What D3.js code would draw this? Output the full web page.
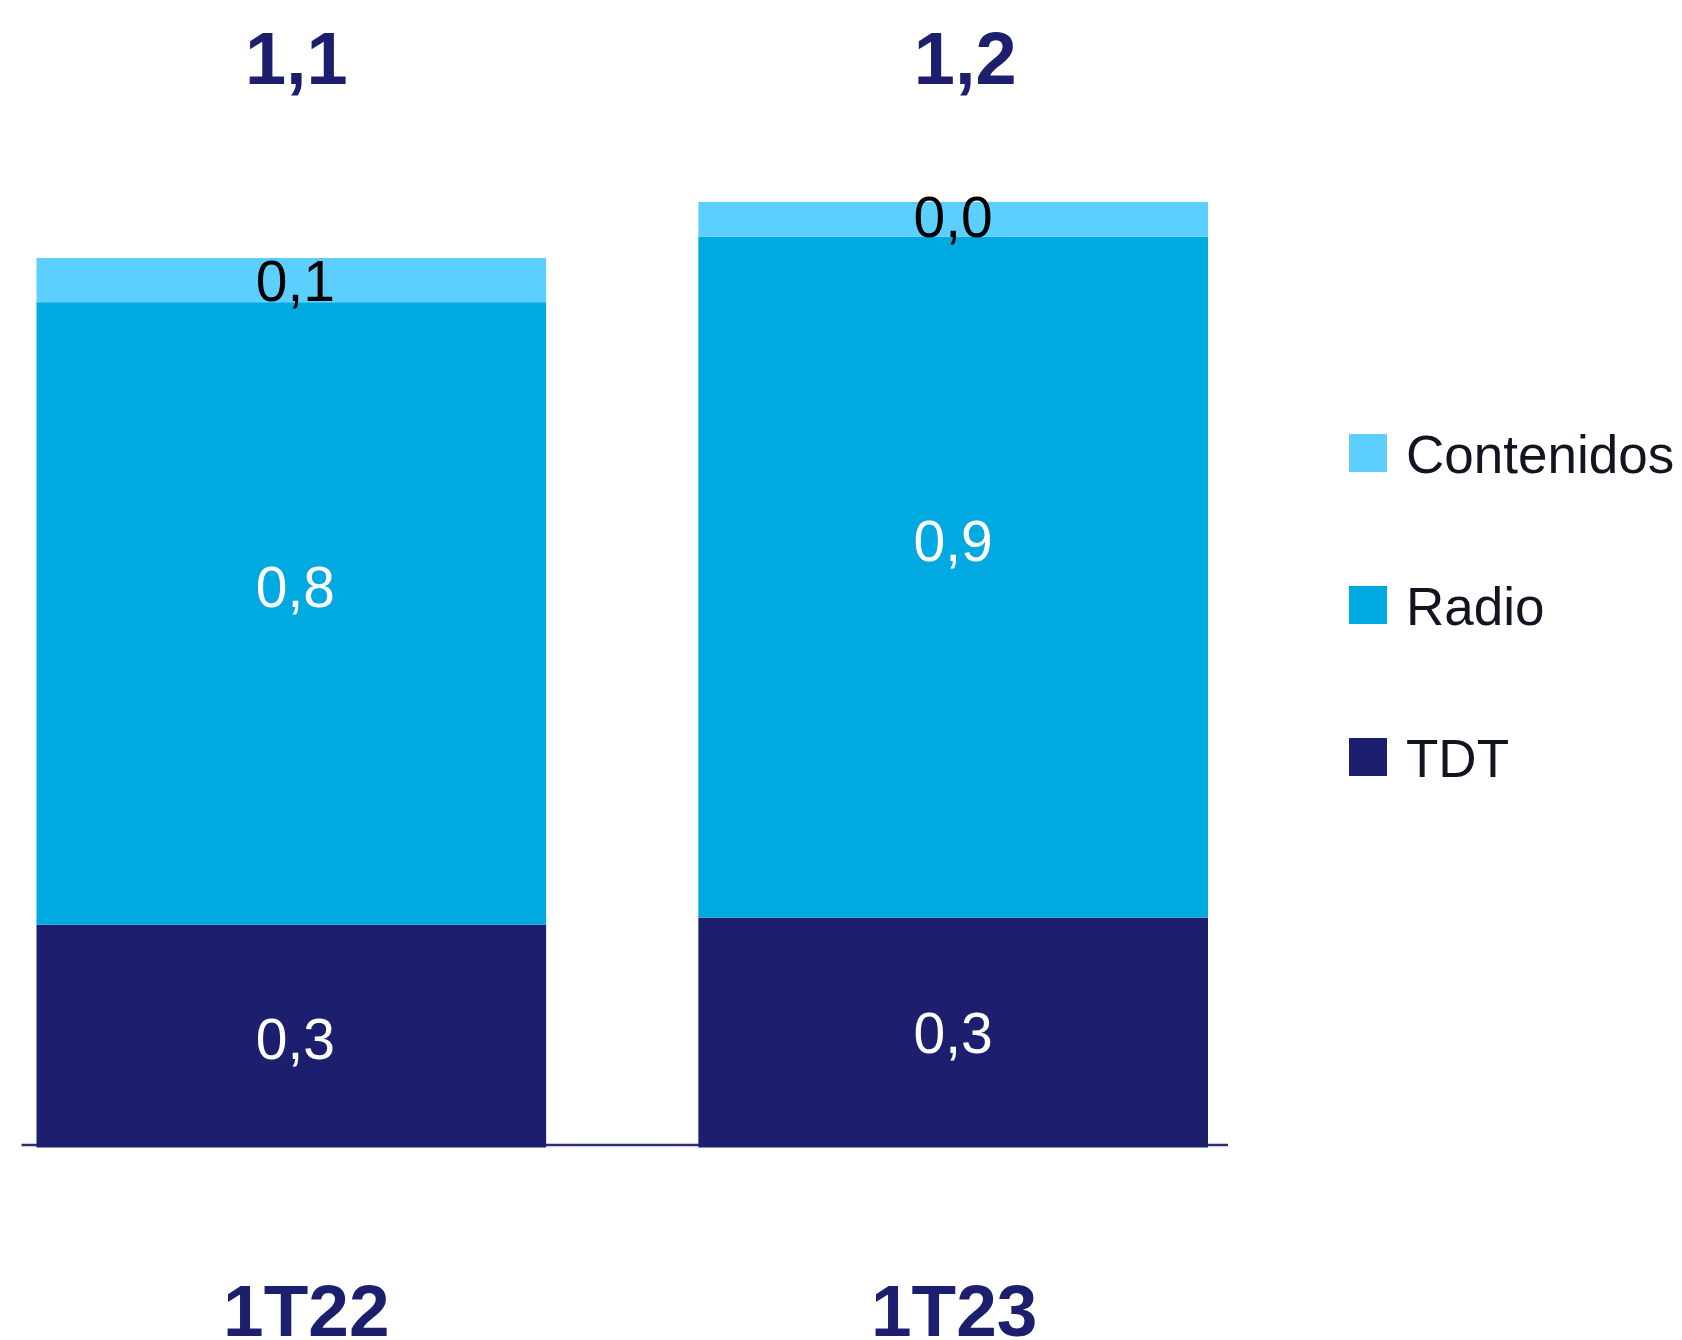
<!DOCTYPE html>
<html>
<head>
<meta charset="utf-8">
<script src="https://cdn.jsdelivr.net/npm/d3@7"></script>
<style>
  html, body { margin: 0; padding: 0; background: #fff; }
  svg { display: block; }
  text { font-family: "Liberation Sans", Arial, Helvetica, sans-serif; }
</style>
</head>
<body>
<svg id="chart" width="1682" height="1340"></svg>
<script>
// ---- data ----
const categories = ["1T22", "1T23"];
const seriesNames = ["TDT", "Radio", "Contenidos"];
const tdt = [0.282, 0.291];
const radio = [0.788, 0.862];
const contenidos = [0.056, 0.044];
const legendOrder = ["Contenidos", "Radio", "TDT"];

// ---- styles ----
const colors = { TDT: "#1B1F6E", Radio: "#00A9E0", Contenidos: "#5DCFFF" };
const labelColors = { TDT: "#FFFFFF", Radio: "#FFFFFF", Contenidos: "#000000" };
const labelDy = { TDT: [2, 0], Radio: [-27, -37], Contenidos: [0, -3] };

const table = categories.map((c, i) => ({ cat: c, TDT: tdt[i], Radio: radio[i], Contenidos: contenidos[i] }));
const stacked = d3.stack().keys(seriesNames)(table);

const svg = d3.select("#chart");
const x = d3.scaleBand().domain(categories).range([36.5, 1208]).paddingInner(0.23).paddingOuter(0);
const y = d3.scaleLinear().domain([0, 1.2]).range([1147.5, 199.5]);
const fmt = v => d3.format(".1f")(v).replace(".", ",");

// baseline
svg.append("line")
  .attr("x1", 21.5).attr("x2", 1228)
  .attr("y1", 1145).attr("y2", 1145)
  .attr("stroke", "#2B2F7A").attr("stroke-width", 2.5);

// bars
const layers = svg.append("g").selectAll("g").data(stacked).join("g")
  .attr("fill", d => colors[d.key]);
layers.selectAll("rect").data(d => d).join("rect")
  .attr("x", d => x(d.data.cat))
  .attr("width", x.bandwidth())
  .attr("y", d => y(d[1]))
  .attr("height", d => y(d[0]) - y(d[1]));

// segment labels
const segFont = 57;
stacked.forEach(layer => {
  svg.append("g").selectAll("text").data(layer).join("text")
    .attr("x", d => x(d.data.cat) + x.bandwidth() / 2 + (d.data.cat === categories[0] ? 4 : 0))
    .attr("y", (d, i) => (y(d[0]) + y(d[1])) / 2 + labelDy[layer.key][i] + segFont * 0.36)
    .attr("text-anchor", "middle")
    .attr("font-size", segFont)
    .attr("fill", labelColors[layer.key])
    .text(d => fmt(d[1] - d[0]));
});

// totals
const totalNudge = [5, 12];
svg.append("g").selectAll("text").data(table).join("text")
  .attr("x", (d, i) => x(d.cat) + x.bandwidth() / 2 + totalNudge[i])
  .attr("y", 84)
  .attr("text-anchor", "middle")
  .attr("font-size", 74)
  .attr("font-weight", "bold")
  .attr("fill", "#1B1F6E")
  .text(d => fmt(d.TDT + d.Radio + d.Contenidos));

// category labels
const catNudge = [15, 1];
svg.append("g").selectAll("text").data(categories).join("text")
  .attr("x", (d, i) => x(d) + x.bandwidth() / 2 + catNudge[i])
  .attr("y", 1336)
  .attr("text-anchor", "middle")
  .attr("font-size", 73)
  .attr("font-weight", "bold")
  .attr("fill", "#1B1F6E")
  .text(d => d);

// legend
const legend = svg.append("g").selectAll("g").data(legendOrder).join("g")
  .attr("transform", (d, i) => `translate(1349, ${434 + i * 152})`);
legend.append("rect").attr("width", 38).attr("height", 38).attr("fill", d => colors[d]);
legend.append("text")
  .attr("x", 57).attr("y", 38.5)
  .attr("font-size", 53)
  .attr("fill", "#111520")
  .text(d => d);
</script>
</body>
</html>
